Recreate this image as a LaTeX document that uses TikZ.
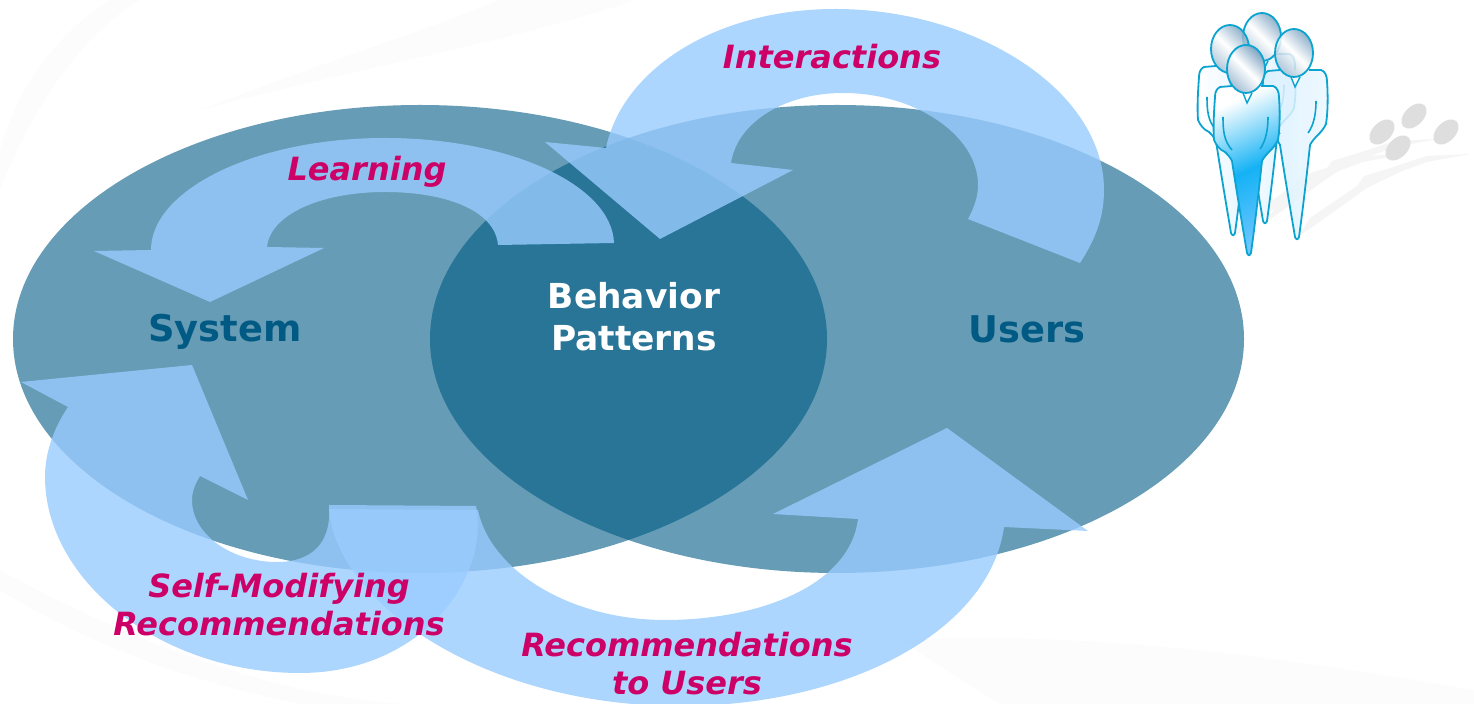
\documentclass[tikz,border=0pt]{standalone}
\usepackage{fontspec}
\setmainfont{DejaVu Sans}
\definecolor{blobblue}{HTML}{005A84}
\definecolor{arrowblue}{HTML}{99CCFF}
\definecolor{labelpink}{HTML}{CC0066}
\definecolor{personline}{HTML}{0BA3CF}
\definecolor{headedge}{HTML}{7FA4C2}
\definecolor{palebody}{HTML}{D8F0FF}
\definecolor{frontbody}{HTML}{14B2F5}
\definecolor{frontedge}{HTML}{6CC6FF}
\tikzset{
    blob/.style={fill=blobblue, fill opacity=0.6},
    swoop/.style={fill=arrowblue, fill opacity=0.8},
    blobtext/.style={font=\fontsize{18.4}{21}\selectfont\bfseries, align=center},
    swooptext/.style={font=\fontsize{16}{19}\selectfont\bfseries\itshape, text=labelpink, align=center},
    head/.style={draw=personline, line width=0.9pt, top color=headedge, bottom color=headedge!70, middle color=white, shading angle=-45},
    pics/person/.style={code={
        \path[pic actions, draw=personline, line width=0.9pt, line join=round]
            (-14,17) -- (-26,18) .. controls (-30,20) and (-31,24) .. (-31,28)
            .. controls (-32,42) and (-33,58) .. (-32,71)
            .. controls (-30,76) and (-26,81) .. (-21,83)
            .. controls (-18,86) and (-16,88) .. (-14,92)
            .. controls (-9,125) and (-3,160) .. (1,184)
            .. controls (2,187) and (4,187) .. (5,184)
            .. controls (9,155) and (13,120) .. (16,92)
            .. controls (20,84) and (28,80) .. (32,71)
            .. controls (34,58) and (34,42) .. (33,28)
            .. controls (33,23) and (31,18) .. (27,17) -- (15,17);
        \draw[personline, line width=0.8pt] (-23,48) .. controls (-23,62) and (-22,72) .. (-14,81);
        \draw[personline, line width=0.8pt] (22,48) .. controls (22,60) and (20,72) .. (14,80);
        \draw[personline, line width=0.7pt, fill=white] (-3,24) -- (1,34) -- (6,24);
        \path[head] (0,0) ellipse [x radius=19, y radius=24];
    }},
}

\begin{document}
\begin{tikzpicture}[x=0.5pt, y=-0.5pt]
    \useasboundingbox (0,0) rectangle (1474,704);
    \clip (0,0) rectangle (1474,704);

    % faint background swooshes
    \fill[black!1] (0,190) .. controls (40,90) and (90,30) .. (140,0) -- (110,0) .. controls (60,30) and (15,90) .. (0,150) -- cycle;
    \fill[black!1] (200,110) .. controls (350,70) and (520,40) .. (635,0) -- (500,0) .. controls (400,40) and (300,70) .. (200,110) -- cycle;
    \fill[black!1] (0,570) .. controls (200,680) and (350,704) .. (420,704) -- (300,704) .. controls (180,680) and (80,640) .. (0,590) -- cycle;
    \fill[black!1] (900,640) .. controls (1100,630) and (1300,660) .. (1474,690) -- (1474,704) -- (1000,704) .. controls (960,680) and (930,660) .. (900,640) -- cycle;

    % people and their shadows
    \foreach \x/\y in {1233/238, 1265/223, 1297/238} {
        \fill[black!4, shift={(\x,\y)}] (0,0) -- (13,-20) -- (60,-52) -- (67,-62) -- (87,-68) -- (130,-82) -- (173,-84)
            -- (130,-76) -- (103,-66) -- (70,-50) -- cycle;
    }
    \foreach \x/\y in {1382/132, 1414/116, 1398/148, 1446/132} {
        \fill[black!13, shift={(\x,\y)}, rotate=45] (0,0) ellipse [x radius=15, y radius=9.5];
    }
    \pic[left color=white, right color=palebody, fill opacity=0.85] at (1262,37) {person};
    \pic[left color=white, right color=palebody, fill opacity=0.85] at (1230,49) {person};
    \pic[left color=palebody, right color=palebody!50, fill opacity=0.85] at (1294,53) {person};
    \pic[top color=white, bottom color=frontedge, middle color=frontbody, shading angle=25] at (1246,69) {person};

    % the two ellipses
    \fill[blob] (420,339) ellipse [x radius=407, y radius=234];
    \fill[blob] (837,339) ellipse [x radius=407, y radius=234];

    % curved arrows
    \fill[swoop] (1080,263) .. controls (1097,237) and (1104,215) .. (1104,190)
        .. controls (1104,90) and (975,9) .. (835,9)
        .. controls (715,9) and (622,70) .. (606,148)
        -- (545,142) -- (660,239) -- (793,170) -- (731,163)
        .. controls (737,122) and (785,93) .. (843,93)
        .. controls (915,93) and (978,135) .. (978,185)
        .. controls (978,197) and (974,208) .. (968,219) -- cycle;
    \fill[swoop] (614,243) .. controls (612,185) and (510,138) .. (385,138)
        .. controls (255,138) and (151,190) .. (151,250)
        -- (94,251) -- (210,302) -- (324,248) -- (267,247)
        .. controls (270,215) and (320,192) .. (385,192)
        .. controls (445,192) and (495,210) .. (498,245) -- cycle;
    \fill[swoop] (476,506) .. controls (490,580) and (420,673) .. (300,673)
        .. controls (160,673) and (45,580) .. (45,477)
        .. controls (45,452) and (54,428) .. (68,407)
        -- (21,382) -- (192,365) -- (248,500) -- (200,476)
        .. controls (195,484) and (192,492) .. (192,500)
        .. controls (192,535) and (232,562) .. (277,562)
        .. controls (310,562) and (332,545) .. (329,505) -- cycle;
    \fill[swoop] (329,509) .. controls (335,600) and (480,706) .. (680,706)
        .. controls (850,706) and (990,630) .. (1004,527)
        -- (1088,531) -- (947,428) -- (773,514) -- (858,519)
        .. controls (850,585) and (760,620) .. (665,620)
        .. controls (570,620) and (490,570) .. (478,510) -- cycle;

    % labels
    \node[blobtext, text=blobblue] (system) at (225,332) {System};
    \node[blobtext, text=blobblue] (users) at (1027,329) {Users};
    \node[blobtext, text=white, font=\fontsize{17.2}{21}\selectfont\bfseries] (patterns) at (634,317) {Behavior\\Patterns};
    \node[swooptext] (learning) at (367,172) {Learning};
    \node[swooptext] (interactions) at (832,57) {Interactions};
    \node[swooptext] (selfmod) at (279,605) {Self-Modifying\\Recommendations};
    \node[swooptext] (recs) at (687,664) {Recommendations\\to Users};
\end{tikzpicture}
\end{document}
